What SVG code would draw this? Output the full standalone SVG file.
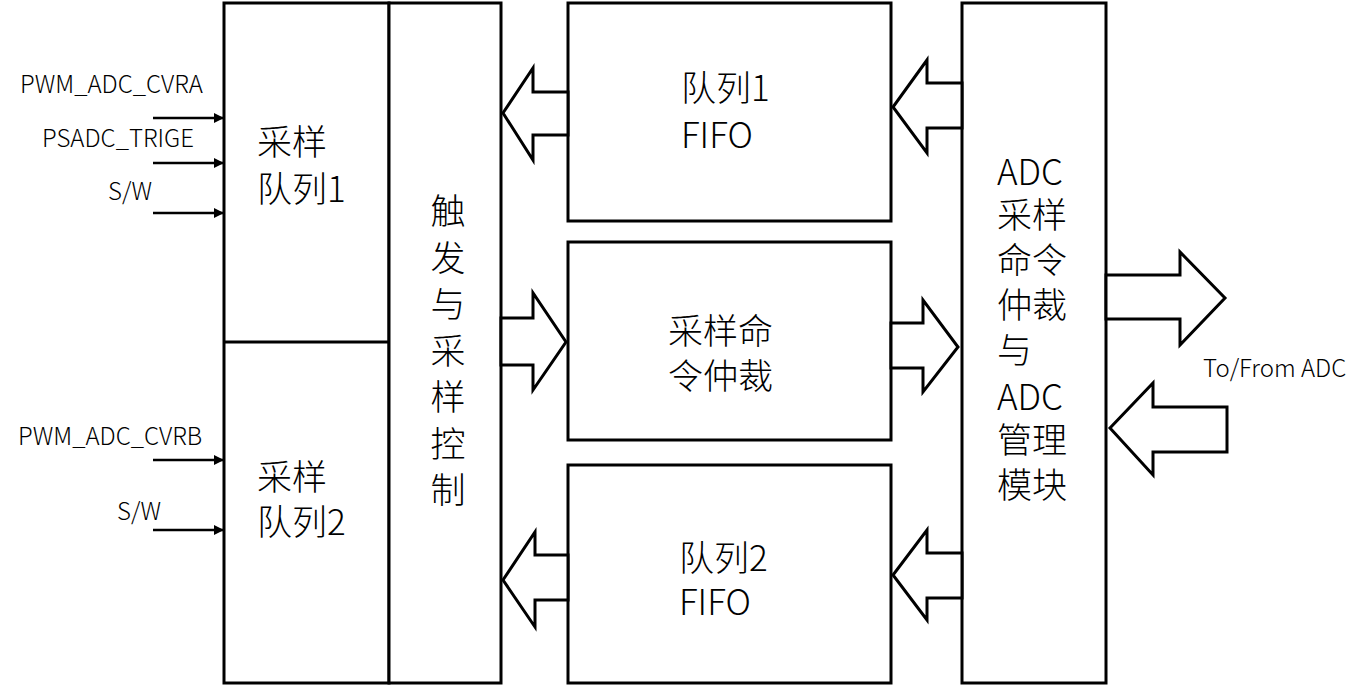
<svg xmlns="http://www.w3.org/2000/svg" width="1367" height="685" viewBox="0 0 1367 685">
<style>
.box{fill:#fff;stroke:#000;stroke-width:3}
.big{fill:#fff;stroke:#000;stroke-width:3;stroke-linejoin:miter}
.t{font-family:"Noto Sans CJK SC","Liberation Sans",sans-serif;fill:#000;font-weight:300}
.cn{font-size:35px}
.lbl{font-size:24px}
.sig{stroke:#000;stroke-width:2.5;fill:none}
</style>
<defs>
<marker id="ah" viewBox="0 0 10 10" refX="10" refY="5" markerWidth="12" markerHeight="10" markerUnits="userSpaceOnUse" orient="auto">
<path d="M0,0 L10,5 L0,10 z" fill="#000"/>
</marker>
</defs>
<rect width="1367" height="685" fill="#fff"/>

<g id="queue-block">
<rect class="box" x="224" y="3" width="165" height="680"/>
<line x1="224" y1="342" x2="389" y2="342" stroke="#000" stroke-width="3"/>
</g>
<g id="queue1">
<text class="t cn" x="257" y="155">采样</text>
<text class="t cn" x="257" y="202">队列1</text>
</g>
<g id="queue2">
<text class="t cn" x="257" y="490">采样</text>
<text class="t cn" x="257" y="535">队列2</text>
</g>
<g id="trigger">
<rect class="box" x="389" y="3" width="112" height="680"/>
<text class="t cn" text-anchor="middle" x="448">
<tspan x="448" y="224">触</tspan><tspan x="448" y="270.5">发</tspan><tspan x="448" y="317">与</tspan><tspan x="448" y="363.5">采</tspan><tspan x="448" y="410">样</tspan><tspan x="448" y="456.5">控</tspan><tspan x="448" y="503">制</tspan>
</text>
</g>
<g id="fifo1">
<rect class="box" x="568" y="3" width="323" height="218"/>
<text class="t cn" x="681" y="101">队列1</text>
<text class="t cn" x="681" y="148">FIFO</text>
</g>
<g id="arbiter">
<rect class="box" x="568" y="242" width="323" height="198"/>
<text class="t cn" x="668" y="344">采样命</text>
<text class="t cn" x="668" y="389">令仲裁</text>
</g>
<g id="fifo2">
<rect class="box" x="568" y="465" width="323" height="218"/>
<text class="t cn" x="679" y="571">队列2</text>
<text class="t cn" x="679" y="615">FIFO</text>
</g>
<g id="adc">
<rect class="box" x="962" y="3" width="144" height="680"/>
<text class="t cn">
<tspan x="997" y="185">ADC</tspan>
<tspan x="997" y="228">采样</tspan>
<tspan x="997" y="273">命令</tspan>
<tspan x="997" y="318">仲裁</tspan>
<tspan x="997" y="363">与</tspan>
<tspan x="997" y="410">ADC</tspan>
<tspan x="997" y="453">管理</tspan>
<tspan x="997" y="498">模块</tspan>
</text>
</g>

<g id="connectors">
<line class="sig" x1="153" y1="118" x2="224" y2="118" marker-end="url(#ah)"/>
<line class="sig" x1="153" y1="163" x2="224" y2="163" marker-end="url(#ah)"/>
<line class="sig" x1="153" y1="213" x2="224" y2="213" marker-end="url(#ah)"/>
<line class="sig" x1="153" y1="460" x2="224" y2="460" marker-end="url(#ah)"/>
<line class="sig" x1="153" y1="530" x2="224" y2="530" marker-end="url(#ah)"/>

<polygon class="big" points="568,92 533,92 533,68 503,113 533,160 533,135 568,135"/>
<polygon class="big" points="501,318 533,318 533,293 566,342 533,390 533,365 501,365"/>
<polygon class="big" points="568,555 535,555 535,532 503,580 535,627 535,600 568,600"/>
<polygon class="big" points="962,83 927,83 927,60 893,107 927,153 927,128 962,128"/>
<polygon class="big" points="891,323 923,323 923,300 958,347 923,392 923,368 891,368"/>
<polygon class="big" points="962,553 927,553 927,530 893,575 927,620 927,598 962,598"/>
<polygon class="big" points="1106,275 1180,275 1180,252 1225,298 1180,345 1180,319 1106,319"/>
<polygon class="big" points="1227,407 1153,407 1153,383 1110,428 1153,475 1153,452 1227,452"/>
</g>

<g id="labels">
<text class="t lbl" x="20" y="93">PWM_ADC_CVRA</text>
<text class="t lbl" x="42" y="147">PSADC_TRIGE</text>
<text class="t lbl" x="108" y="200">S/W</text>
<text class="t lbl" x="18" y="445">PWM_ADC_CVRB</text>
<text class="t lbl" x="117" y="520">S/W</text>
<text class="t lbl" x="1203" y="377">To/From ADC</text>
</g>
</svg>
